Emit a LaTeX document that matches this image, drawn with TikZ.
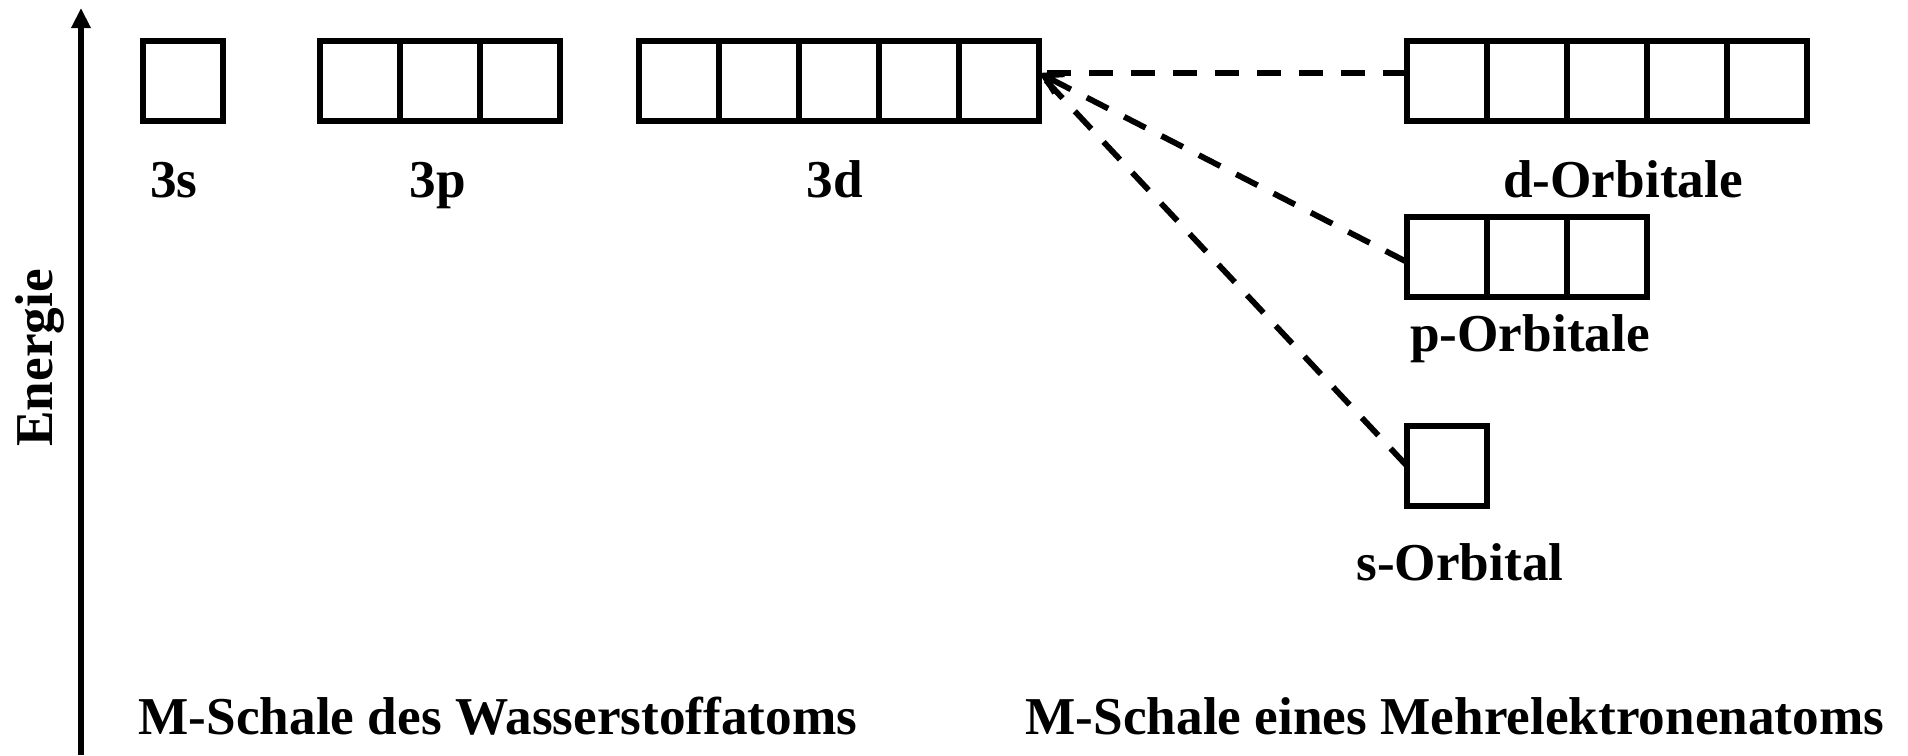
\documentclass[tikz,border=0pt]{standalone}
\usepackage{fontspec}
\setmainfont{Liberation Serif}
\usetikzlibrary{arrows.meta}
\begin{document}
\begin{tikzpicture}[x=0.02cm,y=-0.02cm,
  cell/.style={draw, line width=3.7pt, minimum size=1.6cm, inner sep=0pt, outer sep=0pt},
  lbl/.style={font=\fontsize{30.3pt}{36pt}\selectfont\bfseries, anchor=base, inner sep=0pt},
  conn/.style={line width=3.3pt, dash pattern=on 13.7pt off 10.2pt},
]
\useasboundingbox (0,0) rectangle (1908,755);
% energy axis
\coordinate (abot) at (81,755);
\coordinate (atop) at (81,8);
\draw[line width=3.6pt, -{Triangle[length=11.4pt,width=10.5pt]}] (abot) -- (atop);
\node[lbl, rotate=90] (energie) at (52,358) {Energie};
% hydrogen M shell
\node[cell] (s1) at (183,81) {};
\node[cell] (p1) at (360,81) {};
\node[cell] (p2) at (440,81) {};
\node[cell] (p3) at (520,81) {};
\node[cell] (d1) at (679,81) {};
\node[cell] (d2) at (759,81) {};
\node[cell] (d3) at (839,81) {};
\node[cell] (d4) at (919,81) {};
\node[cell] (d5) at (999,81) {};
\node[lbl] (l3s) at (174,197) {3s};
\node[lbl] (l3p) at (438,197) {3p};
\node[lbl] (l3d) at (835,197) {3d};
% multi-electron M shell
\node[cell] (D1) at (1447,81) {};
\node[cell] (D2) at (1527,81) {};
\node[cell] (D3) at (1607,81) {};
\node[cell] (D4) at (1687,81) {};
\node[cell] (D5) at (1767,81) {};
\node[cell] (P1) at (1447,257) {};
\node[cell] (P2) at (1527,257) {};
\node[cell] (P3) at (1607,257) {};
\node[cell] (S1) at (1447,466) {};
\node[lbl] (ld) at (1623,197) {d-Orbitale};
\node[lbl] (lp) at (1530,351) {p-Orbitale};
\node[lbl] (ls) at (1460,580) {s-Orbital};
% captions
\node[lbl] (capH) at (498,734) {M-Schale des Wasserstoffatoms};
\node[lbl] (capM) at (1455,734) {M-Schale eines Mehrelektronenatoms};
% connectors
\coordinate (tip) at ([yshift=0.16cm]d5.east);
\draw[conn] (D1.west |- tip) -- (tip);
\draw[conn, -{Straight Barb[length=10pt,width=12pt]}] ([yshift=-0.1cm]P1.west) -- (tip);
\draw[conn] (S1.west) -- (tip);
\end{tikzpicture}
\end{document}
